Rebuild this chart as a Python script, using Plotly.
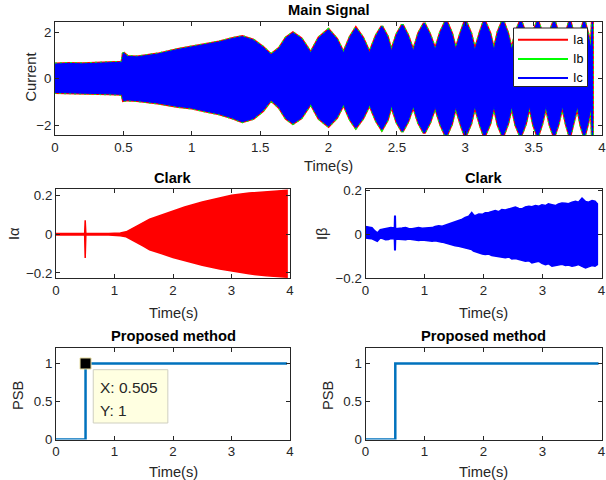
import plotly.graph_objects as go

# ---------------- data ----------------
# Main signal: envelope of the three-phase currents (Ia, Ib, Ic overlap)
t_main = [0.00, 0.10, 0.20, 0.30, 0.40, 0.49, 0.50, 0.53, 0.60, 0.75, 0.90, 1.00, 1.10, 1.20,
          1.30, 1.37, 1.45, 1.52, 1.58, 1.64, 1.69, 1.74, 1.80, 1.87, 1.93, 2.00, 2.06, 2.11,
          2.16, 2.20, 2.25, 2.30, 2.35, 2.39, 2.43, 2.46, 2.50, 2.54, 2.58, 2.62, 2.66, 2.70,
          2.74, 2.78, 2.82, 2.86, 2.90, 2.93, 2.97, 3.00, 3.04, 3.07, 3.11, 3.14, 3.18, 3.21,
          3.24, 3.275, 3.31, 3.34, 3.37, 3.405, 3.44, 3.47, 3.50, 3.53, 3.56, 3.59, 3.62, 3.65,
          3.68, 3.71, 3.74, 3.765, 3.79, 3.82, 3.845, 3.87, 3.895, 3.92, 3.93]
i_upper = [0.62, 0.65, 0.63, 0.66, 0.68, 0.70, 1.10, 0.95, 0.93, 1.05, 1.25, 1.35, 1.45, 1.57,
           1.72, 1.80, 1.65, 1.35, 1.02, 1.30, 1.75, 1.96, 1.72, 1.10, 1.75, 2.10, 1.70, 1.10,
           1.80, 2.17, 1.75, 1.10, 1.85, 2.24, 1.80, 1.17, 1.90, 2.31, 1.85, 1.17, 1.95, 2.38,
           1.90, 1.24, 2.00, 2.50, 1.95, 1.24, 2.00, 2.50, 1.95, 1.20, 2.00, 2.50, 1.95, 1.20,
           2.00, 2.50, 1.95, 1.20, 2.00, 2.50, 1.95, 1.20, 2.00, 2.50, 1.95, 1.20, 2.00, 2.50,
           1.95, 1.20, 2.00, 2.50, 1.95, 1.20, 2.00, 2.50, 1.95, 1.25, 2.50]
i_lower = [-0.60, -0.64, -0.62, -0.65, -0.66, -0.68, -0.95, -0.92, -0.95, -1.05, -1.20, -1.27, -1.40, -1.52,
           -1.70, -1.86, -1.72, -1.38, -0.92, -1.25, -1.72, -1.93, -1.70, -1.08, -1.72, -2.05, -1.68, -1.10,
           -1.78, -2.12, -1.72, -1.12, -1.82, -2.20, -1.78, -1.15, -1.88, -2.28, -1.85, -1.18, -1.92, -2.35,
           -1.90, -1.22, -1.98, -2.50, -1.95, -1.22, -2.00, -2.50, -1.95, -1.18, -2.00, -2.50, -1.95, -1.18,
           -2.00, -2.50, -1.95, -1.18, -2.00, -2.50, -1.95, -1.18, -2.00, -2.50, -1.95, -1.18, -2.00, -2.50,
           -1.95, -1.18, -2.00, -2.50, -1.95, -1.18, -2.00, -2.50, -1.95, -1.20, -2.50]
phase_names = ["Ia", "Ib", "Ic"]
phase_colors = ["#ff0000", "#00ff00", "#0000ff"]

# Clark I-alpha envelope
t_alpha = [0.00, 0.49, 0.499, 0.50, 0.501, 0.51, 0.90, 1.00, 1.10, 1.20, 1.30, 1.40, 1.50, 1.60,
           1.80, 2.00, 2.20, 2.50, 2.80, 3.00, 3.30, 3.60, 3.95]
alpha_upper = [0.004, 0.004, 0.073, 0.073, 0.073, 0.004, 0.004, 0.005, 0.007, 0.013, 0.028, 0.045,
               0.062, 0.078, 0.100, 0.124, 0.142, 0.168, 0.190, 0.203, 0.214, 0.222, 0.228]
alpha_lower = [-0.004, -0.004, -0.122, -0.122, -0.122, -0.004, -0.004, -0.005, -0.007, -0.013, -0.028, -0.045,
               -0.062, -0.080, -0.100, -0.120, -0.138, -0.160, -0.180, -0.192, -0.205, -0.215, -0.222]

# Clark I-beta envelope
t_beta = [0.00, 0.06, 0.11, 0.16, 0.20, 0.25, 0.29, 0.34, 0.39, 0.43, 0.49, 0.495, 0.505, 0.51,
          0.56, 0.62, 0.68, 0.73, 0.79, 0.85, 0.90, 0.96, 1.01, 1.07, 1.13, 1.18, 1.24, 1.30,
          1.35, 1.41, 1.47, 1.52, 1.58, 1.64, 1.69, 1.75, 1.80, 1.83, 1.86, 1.92, 1.98, 2.03,
          2.09, 2.14, 2.20, 2.26, 2.31, 2.37, 2.43, 2.48, 2.54, 2.60, 2.65, 2.71, 2.77, 2.82,
          2.88, 2.94, 2.99, 3.05, 3.10, 3.16, 3.22, 3.27, 3.33, 3.39, 3.44, 3.50, 3.56, 3.61,
          3.67, 3.73, 3.78, 3.84, 3.89, 3.93]
beta_upper = [0.035, 0.032, 0.030, 0.015, 0.006, 0.021, 0.024, 0.025, 0.028, 0.030, 0.028, 0.081, 0.081, 0.025,
              0.025, 0.028, 0.030, 0.026, 0.025, 0.029, 0.030, 0.027, 0.028, 0.031, 0.030, 0.035, 0.038, 0.036,
              0.041, 0.046, 0.050, 0.056, 0.061, 0.068, 0.076, 0.082, 0.099, 0.088, 0.084, 0.092, 0.090, 0.097,
              0.099, 0.103, 0.107, 0.102, 0.112, 0.110, 0.115, 0.118, 0.123, 0.117, 0.115, 0.124, 0.127, 0.125,
              0.130, 0.127, 0.133, 0.130, 0.138, 0.134, 0.130, 0.137, 0.142, 0.140, 0.138, 0.145, 0.149, 0.145,
              0.164, 0.148, 0.145, 0.153, 0.150, 0.138]
beta_lower = [-0.017, -0.020, -0.021, -0.028, -0.032, -0.017, -0.020, -0.025, -0.024, -0.020, -0.022, -0.070, -0.070, -0.022,
              -0.021, -0.024, -0.025, -0.022, -0.025, -0.027, -0.028, -0.026, -0.025, -0.030, -0.032, -0.030, -0.033, -0.036,
              -0.040, -0.045, -0.048, -0.052, -0.055, -0.060, -0.063, -0.066, -0.070, -0.076, -0.082, -0.085, -0.090, -0.092,
              -0.090, -0.097, -0.100, -0.100, -0.104, -0.107, -0.103, -0.112, -0.110, -0.115, -0.118, -0.123, -0.120, -0.130,
              -0.126, -0.123, -0.132, -0.138, -0.134, -0.145, -0.140, -0.138, -0.136, -0.142, -0.140, -0.145, -0.142, -0.138,
              -0.146, -0.153, -0.148, -0.142, -0.145, -0.138]

# Proposed method (PSB flag)
t_psb = [0.0, 0.505, 3.95]
psb = [0, 1, 1]
tip_x, tip_y = 0.505, 1

# Ticks
main_xticks = [0, 0.5, 1, 1.5, 2, 2.5, 3, 3.5, 4]
main_yticks = [-2, 0, 2]
sub_xticks = [0, 1, 2, 3, 4]
clark_yticks = [-0.2, 0, 0.2]
psb_yticks = [0, 0.5, 1]

# ---------------- figure ----------------
W, H = 606, 480
FONT = "Liberation Sans, Arial, Helvetica, sans-serif"
AX = "#262626"
BLUE = "#0072BD"


def dx(a, b):
    return [a / W, b / W]


def dy(top, bottom):
    return [1 - bottom / H, 1 - top / H]


def poly(t, up, lo):
    return list(t) + list(t[::-1]), list(up) + list(lo[::-1])


fig = go.Figure()

# main signal: three phases drawn as filled envelopes
px_, py_ = poly(t_main, i_upper, i_lower)
line_styles = [dict(width=3), dict(width=3, dash="2px,3px"), dict(width=1)]
for name, col, ls in zip(phase_names, phase_colors, line_styles):
    fig.add_trace(go.Scatter(x=px_, y=py_, fill="toself", fillcolor=col, mode="lines", name=name,
                             line=dict(color=col, **ls), showlegend=False, hoverinfo="skip",
                             xaxis="x", yaxis="y"))

ax_, ay_ = poly(t_alpha, alpha_upper, alpha_lower)
fig.add_trace(go.Scatter(x=ax_, y=ay_, fill="toself", fillcolor="#ff0000", mode="lines",
                         line=dict(color="#ff0000", width=1.5), showlegend=False,
                         xaxis="x2", yaxis="y2"))
bx_, by_ = poly(t_beta, beta_upper, beta_lower)
fig.add_trace(go.Scatter(x=bx_, y=by_, fill="toself", fillcolor="#0000ff", mode="lines",
                         line=dict(color="#0000ff", width=1.5), showlegend=False,
                         xaxis="x3", yaxis="y3"))

for xa, ya in (("x4", "y4"), ("x5", "y5")):
    fig.add_trace(go.Scatter(x=t_psb, y=psb, mode="lines", line_shape="hv",
                             line=dict(color=BLUE, width=2.5), showlegend=False,
                             xaxis=xa, yaxis=ya))

# data tip marker
fig.add_trace(go.Scatter(x=[tip_x], y=[tip_y], mode="markers",
                         marker=dict(symbol="square", size=11, color="black",
                                     line=dict(color="#e6dca0", width=1)),
                         showlegend=False, xaxis="x4", yaxis="y4"))


def axis(domain, rng, tickvals, anchor):
    return dict(domain=domain, range=rng, tickvals=tickvals, anchor=anchor,
                automargin=False,
                showline=True, linecolor=AX, linewidth=1, mirror="ticks",
                ticks="inside", ticklen=4, tickcolor=AX, tickwidth=1,
                showgrid=False, zeroline=False,
                tickfont=dict(family=FONT, size=13.3, color=AX))


fig.update_layout(
    template="none",
    width=W, height=H, margin=dict(l=0, r=0, t=0, b=0, autoexpand=False),
    paper_bgcolor="white", plot_bgcolor="white",
    font=dict(family=FONT, color=AX),
    xaxis=axis(dx(55, 602), [0, 4], main_xticks, "y"),
    yaxis=axis(dy(22, 135), [-2.43, 2.43], main_yticks, "x"),
    xaxis2=axis(dx(56, 290), [0, 4], sub_xticks, "y2"),
    yaxis2=axis(dy(189, 278.3), [-0.228, 0.235], clark_yticks, "x2"),
    xaxis3=axis(dx(365.5, 601.5), [0, 4], sub_xticks, "y3"),
    yaxis3=axis(dy(189, 278.3), [-0.2, 0.205], clark_yticks, "x3"),
    xaxis4=axis(dx(56, 290), [0, 4], sub_xticks, "y4"),
    yaxis4=axis(dy(348.3, 439.5), [0, 1.2], psb_yticks, "x4"),
    xaxis5=axis(dx(365.5, 601.5), [0, 4], sub_xticks, "y5"),
    yaxis5=axis(dy(348.3, 439.5), [0, 1.2], psb_yticks, "x5"),
    showlegend=False,
)

# legend box for the main signal (MATLAB style, long line samples)
fig.add_shape(type="rect", xref="paper", yref="paper",
              x0=513.5 / W, x1=587.5 / W, y0=1 - 86.5 / H, y1=1 - 28 / H,
              fillcolor="white", line=dict(color=AX, width=1), layer="above")
for k, (name, col) in enumerate(zip(phase_names, phase_colors)):
    yy = 39.7 + 19.2 * k
    fig.add_shape(type="line", xref="paper", yref="paper",
                  x0=518 / W, x1=568 / W, y0=1 - yy / H, y1=1 - yy / H,
                  line=dict(color=col, width=2), layer="above")
    fig.add_annotation(x=571.5 / W, y=1 - yy / H, xref="paper", yref="paper", text=name,
                       showarrow=False, xanchor="left", yanchor="middle", borderpad=0,
                       font=dict(family=FONT, size=12.5, color="#000000"))

# data tip box
fig.add_shape(type="rect", xref="x4", yref="y4", xsizemode="pixel", ysizemode="pixel",
              xanchor=tip_x, yanchor=tip_y, x0=7.7, x1=82.3, y0=-6.2, y1=-59.5,
              fillcolor="#ffffe1", line=dict(color="#cfcfc0", width=1), layer="above")
fig.add_annotation(x=tip_x, y=tip_y, xref="x4", yref="y4", text=f"X: {tip_x}",
                   showarrow=False, xanchor="left", yanchor="middle", xshift=13, yshift=-23.5,
                   borderpad=0, font=dict(family=FONT, size=15.5, color="#262626"))
fig.add_annotation(x=tip_x, y=tip_y, xref="x4", yref="y4", text=f"Y: {tip_y}",
                   showarrow=False, xanchor="left", yanchor="middle", xshift=13, yshift=-47,
                   borderpad=0, font=dict(family=FONT, size=15.5, color="#262626"))


def label(text, x, y, size=14.7, bold=False, angle=0):
    fig.add_annotation(x=x / W, y=1 - y / H, xref="paper", yref="paper", text=f"<b>{text}</b>" if bold else text,
                       showarrow=False, xanchor="center", yanchor="middle", textangle=angle,
                       borderpad=0, font=dict(family=FONT, size=size, color="#000000" if bold else AX))


label("Main Signal", 328.5, 10, bold=True)
label("Clark", 173, 178, bold=True)
label("Clark", 483.5, 178, bold=True)
label("Proposed method", 173, 336, bold=True)
label("Proposed method", 483.5, 336, bold=True)
label("Time(s)", 328.5, 166)
label("Time(s)", 173, 313)
label("Time(s)", 483.5, 313)
label("Time(s)", 173, 471.5)
label("Time(s)", 483.5, 471.5)
label("Current", 30, 77.5, angle=-90)
label("Iα", 14, 234, angle=-90)
label("Iβ", 322, 234, angle=-90)
label("PSB", 18, 395, angle=-90)
label("PSB", 328, 395, angle=-90)

fig.write_html("out.html", config={"displayModeBar": False},
               post_script="document.body.style.margin='0';document.body.style.padding='0';"
                           "document.body.style.overflow='hidden';")
